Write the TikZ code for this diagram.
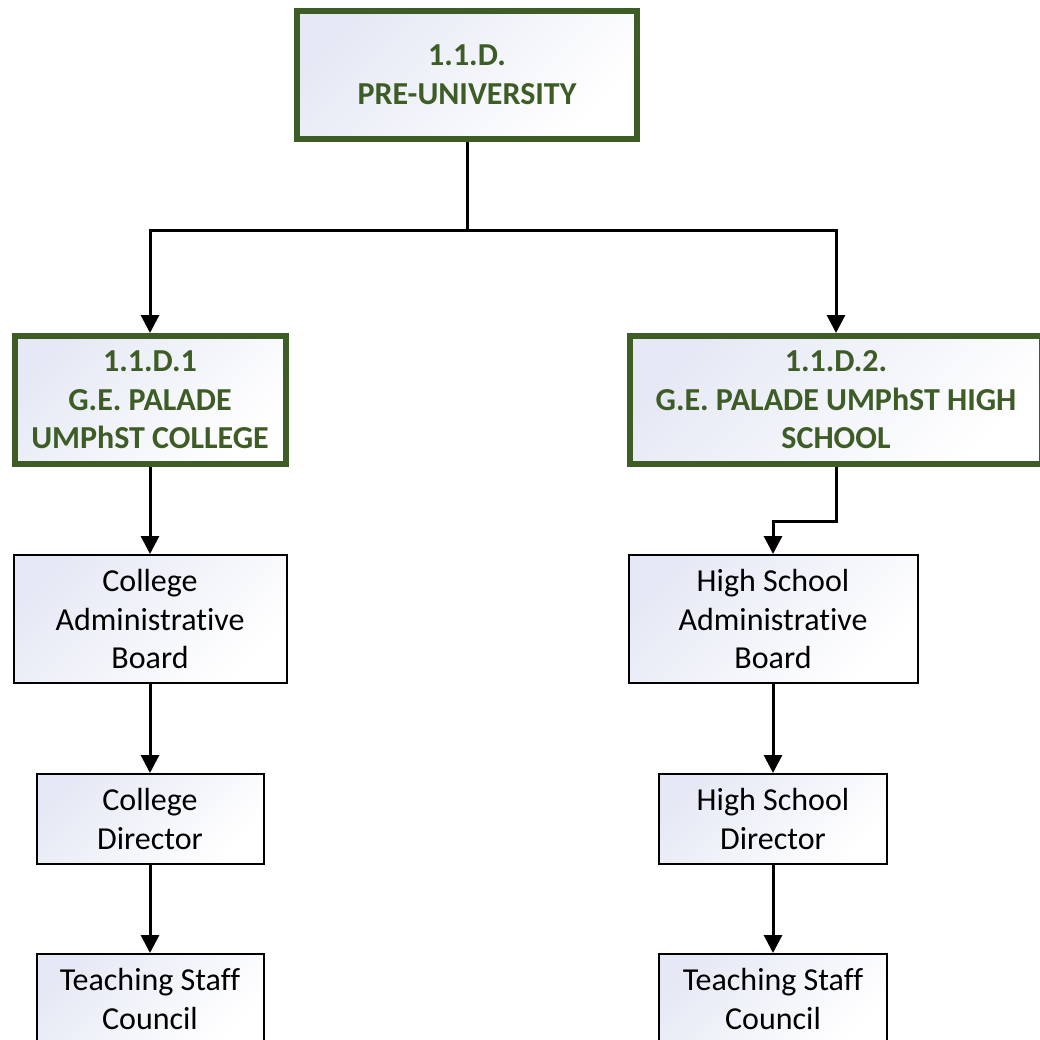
\documentclass[tikz,border=0pt]{standalone}
\usepackage{fontspec}
\setmainfont{Carlito}[Ligatures=NoCommon]
\usetikzlibrary{arrows.meta}
\definecolor{unitgreen}{HTML}{3E5C26}
\definecolor{unitshade}{HTML}{E6E9F5}
\tikzset{
        unitbox/.style={draw=unitgreen, line width=6pt, text=unitgreen,
                font=\bfseries\fontsize{32}{38.5}\selectfont, align=center,
                top color=unitshade, bottom color=white, shading angle=45,
                inner sep=0pt, minimum height=128pt},
        officebox/.style={draw=black, line width=2pt,
                font=\fontsize{32}{38.5}\selectfont, align=center,
                top color=unitshade, bottom color=white, shading angle=45,
                inner sep=0pt},
        link/.style={line width=3pt, -{Triangle[length=18pt,width=18pt]}}
}

\begin{document}
\begin{tikzpicture}[x=1pt,y=-1pt]
        \useasboundingbox (0,0) rectangle (1040,1039);

        \node[unitbox, minimum width=340pt] (T) at (467,74.5) {1.1.D.\\PRE-UNIVERSITY};

        \node[unitbox, minimum width=271pt] (C_0) at (150,400) {1.1.D.1\\G.E. PALADE\\UMPhST COLLEGE};
        \node[officebox, minimum width=273pt, minimum height=128pt] (C_1) at (150,619) {College\\Administrative\\Board};
        \node[officebox, minimum width=227pt, minimum height=90pt] (C_2) at (150,819) {College\\Director};
        \node[officebox, minimum width=227pt, minimum height=90pt] (C_3) at (150,999) {Teaching Staff\\Council};

        \node[unitbox, minimum width=412pt] (H_0) at (836,400) {1.1.D.2.\\G.E. PALADE UMPhST HIGH\\SCHOOL};
        \node[officebox, minimum width=289pt, minimum height=128pt] (H_1) at (773,619) {High School\\Administrative\\Board};
        \node[officebox, minimum width=228pt, minimum height=90pt] (H_2) at (773,819) {High School\\Director};
        \node[officebox, minimum width=228pt, minimum height=90pt] (H_3) at (773,999) {Teaching Staff\\Council};

        \coordinate (fork) at (467,230);
        \draw[line width=3pt] (T.south) -- (fork);
        \draw[link] (fork) -| (C_0.north);
        \draw[link] (fork) -| (H_0.north);

        \draw[link] (C_0.south) -- (C_1.north);
        \draw[link] (C_1.south) -- (C_2.north);
        \draw[link] (C_2.south) -- (C_3.north);

        \draw[link] (H_0.south) -- ++(0,54) -| (H_1.north);
        \draw[link] (H_1.south) -- (H_2.north);
        \draw[link] (H_2.south) -- (H_3.north);
\end{tikzpicture}
\end{document}
